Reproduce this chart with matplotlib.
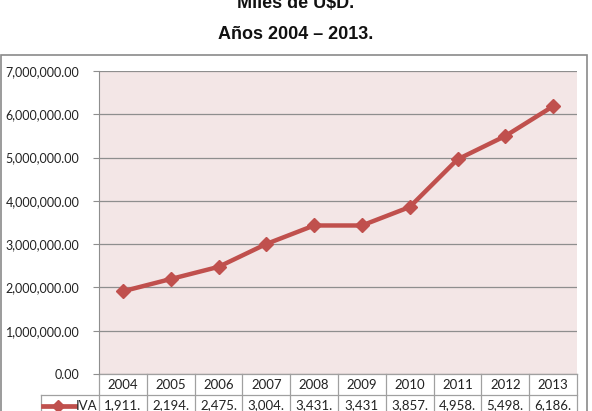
import matplotlib.pyplot as plt
import matplotlib.patches as mpatches
from matplotlib.lines import Line2D
from matplotlib.ticker import FuncFormatter
import numpy as np

# IVA collected, miles de U$D
years = ["2004", "2005", "2006", "2007", "2008", "2009", "2010", "2011", "2012", "2013"]
iva = [1911000, 2194000, 2475000, 3004000, 3431000, 3431000, 3857000, 4958000, 5498000, 6186000]
iva_cells = ["1,911.", "2,194.", "2,475.", "3,004.", "3,431.", "3,431", "3,857.", "4,958.", "5,498.", "6,186."]
series_name = "IVA"

RED = "#C0504D"
GRID = "#8E8E8E"
BG = "#F3E6E6"
W, H = 592, 411

fig = plt.figure(figsize=(W / 100, H / 100), dpi=100)

# titles (first line is cut off at the top of the picture, as in the source)
fig.text(0.5, 1 - 8 / H, "Miles de U$D.", ha="center", va="baseline", fontsize=13,
         fontweight="bold", family="Liberation Sans", color="#111111")
fig.text(0.5, 1 - 39 / H, "Años 2004 – 2013.", ha="center", va="baseline", fontsize=13,
         fontweight="bold", family="Liberation Sans", color="#111111")

# outer chart border
fig.patches.append(mpatches.Rectangle((1 / W, -0.05), 586 / W, (H - 55) / H + 0.05,
                                      transform=fig.transFigure, fill=False,
                                      edgecolor="#8A8A8A", linewidth=1.2))

left, right, top, bottom = 99, 577, 71, 374
ax = fig.add_axes([left / W, 1 - bottom / H, (right - left) / W, (bottom - top) / H])
ax.set_facecolor(BG)

x = np.arange(len(years))
ax.plot(x, iva, color=RED, linewidth=3.2, marker="D", markersize=7.5, zorder=3)

ax.set_xlim(-0.5, len(years) - 0.5)
ax.set_ylim(0, 7000000)
ax.set_yticks(np.arange(0, 7000001, 1000000))
ax.yaxis.set_major_formatter(FuncFormatter(lambda v, p: f"{v:,.2f}"))
ax.set_xticks([])
ax.grid(axis="y", color=GRID, linewidth=0.9)
ax.set_axisbelow(True)
for side in ("top", "right", "bottom"):
    ax.spines[side].set_visible(False)
ax.spines["left"].set_color(GRID)
ax.tick_params(axis="y", length=4, color=GRID, pad=10, labelsize=9, labelcolor="#222222")
for lbl in ax.get_yticklabels():
    lbl.set_family("Lato")

# data table under the plot
tr = ax.get_xaxis_transform()
row_h = 21 / (bottom - top)
cell_kw = dict(ha="center", va="center", fontsize=9.5, family="Lato", color="#222222",
               transform=tr, clip_on=False)
line_kw = dict(color="#A0A0A0", linewidth=0.9, clip_on=False, transform=tr)
for i, (yr, cell) in enumerate(zip(years, iva_cells)):
    ax.text(i, -row_h / 2, yr, **cell_kw)
    ax.text(i, -1.5 * row_h, cell, **cell_kw)
for b in np.arange(-0.5, len(years) + 0.5, 1.0):
    ax.add_line(Line2D([b, b], [0, -2.5 * row_h], **line_kw))
ax.add_line(Line2D([-1.71, -1.71], [-row_h, -2.5 * row_h], **line_kw))
ax.add_line(Line2D([-0.5, len(years) - 0.5], [0, 0], **line_kw))
ax.add_line(Line2D([-1.71, len(years) - 0.5], [-row_h, -row_h], **line_kw))

# legend key in the first table column
ax.add_line(Line2D([-1.68, -1.0], [-1.5 * row_h] * 2, color=RED, linewidth=3.4,
                   clip_on=False, transform=tr))
ax.plot([-1.36], [-1.5 * row_h], color=RED, marker="D", markersize=6.5, clip_on=False,
        transform=tr)
ax.text(-0.53, -1.5 * row_h, series_name, ha="right", va="center", fontsize=9.5,
        family="Lato", color="#222222", transform=tr, clip_on=False)

fig.savefig("out.png", dpi=100)
